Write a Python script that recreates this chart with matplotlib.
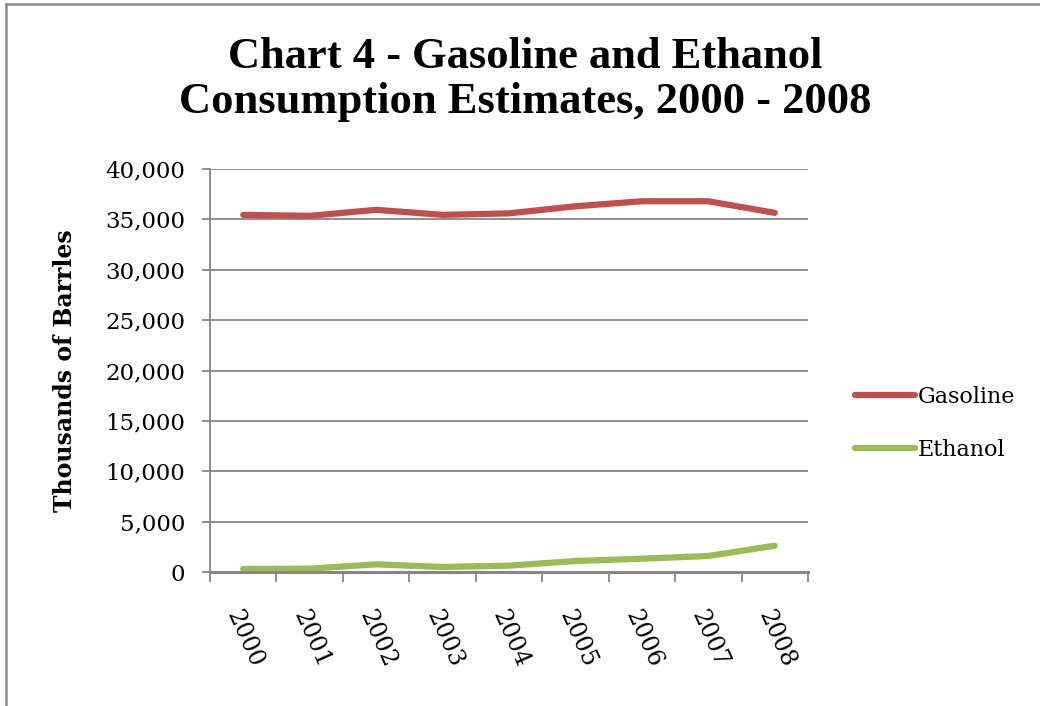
import matplotlib
matplotlib.use('Agg')
import matplotlib.pyplot as plt
from matplotlib.lines import Line2D

years = ['2000', '2001', '2002', '2003', '2004', '2005', '2006', '2007', '2008']
gasoline = [35450, 35350, 35950, 35450, 35600, 36300, 36800, 36800, 35650]
ethanol = [300, 330, 760, 500, 630, 1090, 1320, 1590, 2610]
yticks = [0, 5000, 10000, 15000, 20000, 25000, 30000, 35000, 40000]

serif = 'DejaVu Serif'
title_font = 'Liberation Serif'
grid_col = '#868686'

fig = plt.figure(figsize=(10.4, 7.06), dpi=100)
# outer frame: only left and top edges are visible
fig.lines.append(Line2D([6 / 1040, 6 / 1040], [0, 1 - 3.5 / 706], transform=fig.transFigure,
                        color='#8c8c8c', linewidth=1.8))
fig.lines.append(Line2D([6 / 1040, 1], [1 - 3.5 / 706, 1 - 3.5 / 706], transform=fig.transFigure,
                        color='#8c8c8c', linewidth=1.8))

ax = fig.add_axes([0.2019, 0.1898, 0.575, 0.5708])
x = list(range(len(years)))
ax.plot(x, gasoline, color='#C0504D', linewidth=4.5, solid_capstyle='round', label='Gasoline')
ax.plot(x, ethanol, color='#9BBB59', linewidth=4.5, solid_capstyle='round', label='Ethanol')

ax.set_xlim(-0.5, len(years) - 0.5)
ax.set_ylim(0, 40000)
ax.set_yticks(yticks)
ax.set_yticklabels(['{:,}'.format(v) for v in yticks], fontfamily=serif, fontsize=16.5)
ax.yaxis.grid(True, color=grid_col, linewidth=1.3)
ax.set_axisbelow(True)

ax.set_xticks(x)
ax.set_xticks([i - 0.5 for i in range(len(years) + 1)], minor=True)
ax.tick_params(axis='x', which='major', length=0, pad=25)
ax.tick_params(axis='x', which='minor', length=7, color=grid_col, width=1.3)
ax.tick_params(axis='y', length=6, color=grid_col, width=1.3, pad=12)
ax.set_xticklabels(years, fontfamily=serif, fontsize=17, rotation=-66,
                   ha='left', va='top', rotation_mode='anchor')

for side in ['top', 'right']:
    ax.spines[side].set_visible(False)
ax.spines['left'].set_color(grid_col)
ax.spines['left'].set_linewidth(1.3)
ax.spines['bottom'].set_color(grid_col)
ax.spines['bottom'].set_linewidth(2.2)

ax.set_ylabel('Thousands of Barrles', fontfamily=serif, fontsize=17, fontweight='bold', labelpad=20)

fig.text(0.505, 0.887, 'Chart 4 - Gasoline and Ethanol\nConsumption Estimates, 2000 - 2008',
         ha='center', va='center', fontfamily=title_font, fontsize=32, fontweight='bold',
         linespacing=1.15)

fig.legend(loc='center left', bbox_to_anchor=(0.803, 0.40), frameon=False,
           prop={'family': serif, 'size': 16}, handlelength=2.7, handletextpad=0.1,
           labelspacing=1.4)

fig.savefig('out.png', dpi=100)
